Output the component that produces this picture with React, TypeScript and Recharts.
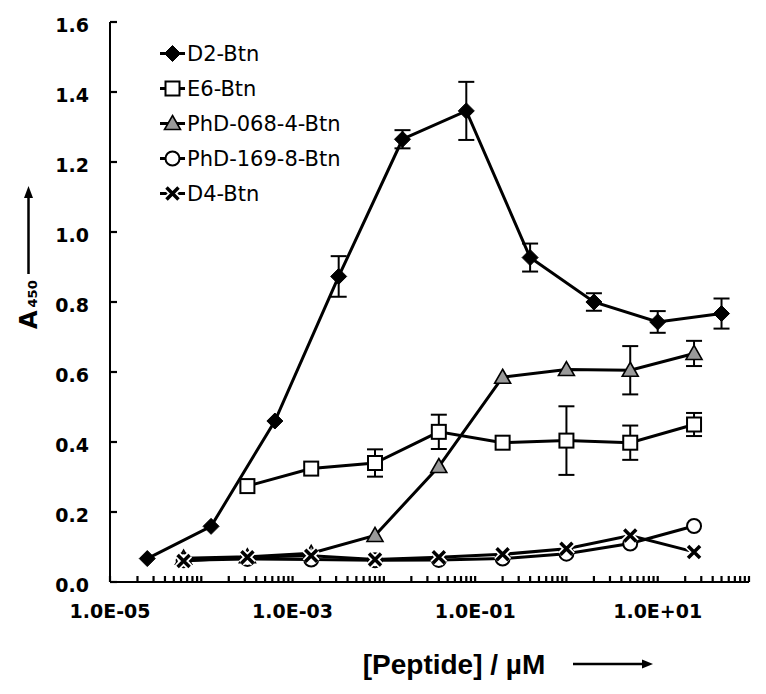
import React from 'react';
import { ScatterChart, Scatter, XAxis, YAxis, ErrorBar, Legend } from 'recharts';

// concentrations in µM (5-fold dilution series)
const d2Conc = [0.0000256, 0.000128, 0.00064, 0.0032, 0.016, 0.08, 0.4, 2, 10, 50];
const d2Abs = [0.067, 0.159, 0.46, 0.873, 1.265, 1.346, 0.927, 0.8, 0.743, 0.767];
const d2Err = [0, 0, 0, 0.058, 0.026, 0.083, 0.04, 0.025, 0.031, 0.043];

const e6Conc = [0.00032, 0.0016, 0.008, 0.04, 0.2, 1, 5, 25];
const e6Abs = [0.274, 0.324, 0.34, 0.429, 0.398, 0.404, 0.398, 0.45];
const e6Err = [0, 0, 0.039, 0.049, 0, 0.098, 0.049, 0.033];

const lowConc = [0.000064, 0.00032, 0.0016, 0.008, 0.04, 0.2, 1, 5, 25];
const phd068Abs = [0.068, 0.072, 0.082, 0.133, 0.33, 0.585, 0.607, 0.605, 0.653];
const phd068Err = [0, 0, 0, 0, 0, 0, 0, 0.069, 0.036];
const phd169Abs = [0.062, 0.066, 0.064, 0.062, 0.063, 0.067, 0.081, 0.11, 0.16];
const phd169Err = [0, 0, 0, 0, 0, 0, 0, 0, 0];
const d4Abs = [0.06, 0.071, 0.075, 0.064, 0.071, 0.079, 0.095, 0.133, 0.086];
const d4Err = [0, 0, 0, 0, 0, 0, 0, 0, 0];

const yTicks = [0, 0.2, 0.4, 0.6, 0.8, 1.0, 1.2, 1.4, 1.6];
const majorX = [1e-5, 1e-3, 1e-1, 1e1];
const xTickLabels = ['1.0E-05', '1.0E-03', '1.0E-01', '1.0E+01'];

// log minor ticks 1..9 x 10^k
const xTicks: number[] = [];
for (let k = -5; k <= 1; k++) {
  for (let m = 1; m <= 9; m++) xTicks.push(Number((m * Math.pow(10, k)).toPrecision(3)));
}
xTicks.push(100);

const FONT = '"DejaVu Sans", sans-serif';

const toPoints = (conc: number[], abs: number[], err: number[]) =>
  conc.map((c, i) => ({ conc: c, abs: abs[i], err: err[i] }));

const drawMarker = (kind: string, cx: number, cy: number) => {
  switch (kind) {
    case 'diamond':
      return <polygon points={`${cx},${cy - 8} ${cx + 8},${cy} ${cx},${cy + 8} ${cx - 8},${cy}`} fill="#000" stroke="#000" strokeWidth={1} />;
    case 'square':
      return <rect x={cx - 7} y={cy - 7} width={14} height={14} fill="#fff" stroke="#000" strokeWidth={2} />;
    case 'triangle':
      return <polygon points={`${cx},${cy - 8} ${cx + 8},${cy + 6} ${cx - 8},${cy + 6}`} fill="#9a9a9a" stroke="#000" strokeWidth={1.6} />;
    case 'circle':
      return <circle cx={cx} cy={cy} r={7} fill="#fff" stroke="#000" strokeWidth={2} />;
    default:
      return (
        <g>
          <path d={`M${cx - 6},${cy - 6}L${cx + 6},${cy + 6}M${cx + 6},${cy - 6}L${cx - 6},${cy + 6}`} stroke="#fff" strokeWidth={7} />
          <path d={`M${cx - 6},${cy - 6}L${cx + 6},${cy + 6}M${cx + 6},${cy - 6}L${cx - 6},${cy + 6}`} stroke="#000" strokeWidth={3.5} />
        </g>
      );
  }
};

const series = [
  { name: 'D2-Btn', marker: 'diamond', data: toPoints(d2Conc, d2Abs, d2Err) },
  { name: 'E6-Btn', marker: 'square', data: toPoints(e6Conc, e6Abs, e6Err) },
  { name: 'PhD-068-4-Btn', marker: 'triangle', data: toPoints(lowConc, phd068Abs, phd068Err) },
  { name: 'PhD-169-8-Btn', marker: 'circle', data: toPoints(lowConc, phd169Abs, phd169Err) },
  { name: 'D4-Btn', marker: 'x', data: toPoints(lowConc, d4Abs, d4Err) },
];

// inward tick marks; labels only on the labelled decades
const XTick = (props: any) => {
  const { x, y, payload } = props;
  const idx = majorX.findIndex((v) => Math.abs(Math.log10(v) - Math.log10(payload.value)) < 1e-6);
  return (
    <g>
      <rect x={x - 1.1} y={y - 6} width={2.2} height={6} fill="#000" />
      {idx >= 0 && (
        <text x={x} y={y + 36} textAnchor="middle" fontFamily={FONT} fontWeight="bold" fontSize={19} fill="#000">
          {xTickLabels[idx]}
        </text>
      )}
    </g>
  );
};

const YTick = (props: any) => {
  const { x, y, payload } = props;
  return (
    <g>
      <rect x={x} y={y - 1.1} width={7} height={2.2} fill="#000" />
      <text x={x - 21} y={y + 10} textAnchor="end" fontFamily={FONT} fontWeight="bold" fontSize={19} fill="#000">
        {payload.value.toFixed(1)}
      </text>
    </g>
  );
};

const XTitle = () => (
  <g>
    <text x={446} y={666} textAnchor="middle" fontFamily='"Liberation Sans", Arial, sans-serif' fontWeight="bold" fontSize={28} fill="#000">
      [Peptide] / µM
    </text>
    <line x1={565} x2={636} y1={656} y2={656} stroke="#000" strokeWidth={2.5} />
    <polygon points="645,656 634,651.5 634,660.5" fill="#000" />
  </g>
);

const YTitle = () => (
  <g>
    <text x={29} y={321} transform="rotate(-90, 29, 321)" fontFamily={FONT} fontWeight="bold" fill="#000">
      <tspan fontSize={24}>A</tspan>
      <tspan fontSize={13} dx={3}>450</tspan>
    </text>
    <line x1={20.5} x2={20.5} y1={266} y2={188} stroke="#000" strokeWidth={2.5} />
    <polygon points="20.5,178 16,190 25,190" fill="#000" />
  </g>
);

const LegendBox = () => (
  <svg width={260} height={180}>
    {series.map((s, i) => {
      const cy = 26.5 + i * 35;
      return (
        <g key={s.name}>
          <line x1={12} x2={37} y1={cy} y2={cy} stroke="#000" strokeWidth={3} />
          {drawMarker(s.marker, 24.5, cy)}
          <text x={39} y={cy + 7.6} fontFamily={FONT} fontSize={21} fill="#000">
            {s.name}
          </text>
        </g>
      );
    })}
  </svg>
);

export default function App() {
  return (
    <ScatterChart width={750} height={678} margin={{ top: 14, right: 9, bottom: 0, left: 0 }}>
      <XAxis
        type="number"
        dataKey="conc"
        scale="log"
        domain={[1e-5, 100]}
        allowDataOverflow
        ticks={xTicks}
        interval={0}
        tick={<XTick />}
        tickLine={false}
        tickSize={0}
        tickMargin={0}
        height={104}
        axisLine={{ stroke: '#000', strokeWidth: 2 }}
        label={{ content: () => <XTitle /> }}
      />
      <YAxis
        type="number"
        dataKey="abs"
        domain={[0, 1.6]}
        ticks={yTicks}
        interval={0}
        tick={<YTick />}
        tickLine={false}
        tickSize={0}
        tickMargin={0}
        width={102}
        axisLine={{ stroke: '#000', strokeWidth: 2 }}
        label={{ content: () => <YTitle /> }}
      />
      <Legend
        layout="horizontal"
        verticalAlign="middle"
        align="center"
        content={() => <LegendBox />}
        wrapperStyle={{ left: 140, top: 19, width: 260, height: 180 }}
      />
      {series.map((s) => (
        <Scatter
          key={s.name}
          name={s.name}
          data={s.data}
          line={{ stroke: '#000', strokeWidth: 3 }}
          lineJointType="linear"
          isAnimationActive={false}
          shape={(p: any) => drawMarker(s.marker, p.cx, p.cy)}
        >
          <ErrorBar dataKey="err" direction="y" width={8} stroke="#000" strokeWidth={2} />
        </Scatter>
      ))}
    </ScatterChart>
  );
}
